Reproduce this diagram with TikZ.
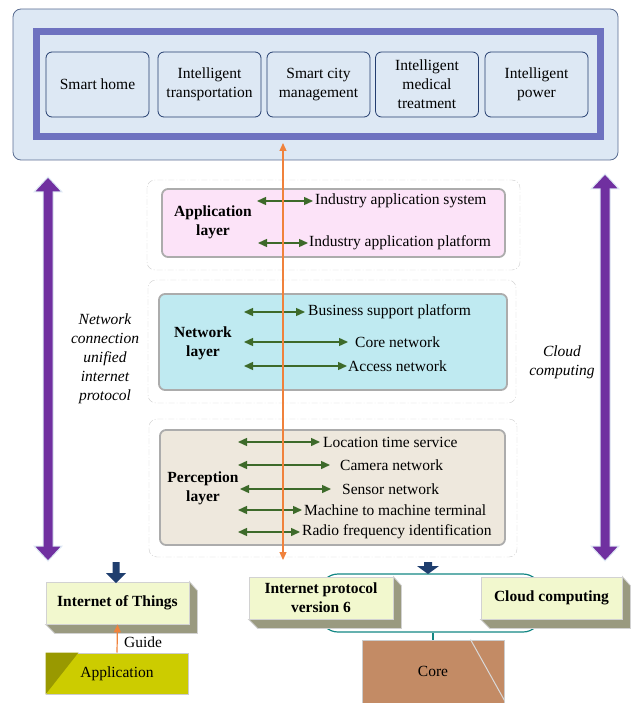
\documentclass[tikz,border=0pt]{standalone}
\usepackage{fontspec}
\setmainfont{Liberation Serif}
\usetikzlibrary{arrows.meta}

\definecolor{paleblue}{HTML}{DDE8F4}
\definecolor{framepurple}{HTML}{6E72C0}
\definecolor{navy}{HTML}{233C6E}
\definecolor{apppink}{HTML}{FCE3F8}
\definecolor{netcyan}{HTML}{BFEAF1}
\definecolor{percbeige}{HTML}{EEE8DD}
\definecolor{arrowgreen}{HTML}{3D6A2A}
\definecolor{ipurple}{HTML}{7030A0}
\definecolor{iporange}{HTML}{F0823C}
\definecolor{boxcream}{HTML}{F2F8CE}
\definecolor{boxside}{HTML}{9A9A80}
\definecolor{olive}{HTML}{CCCC00}
\definecolor{darkolive}{HTML}{999900}
\definecolor{corebrown}{HTML}{C38B65}
\definecolor{linkteal}{HTML}{138784}
\definecolor{downblue}{HTML}{1F3E6E}

\tikzset{
  txt/.style={font=\fontsize{15.5}{19}\selectfont, align=center},
  areabox/.style={txt, draw=navy, fill=paleblue, rounded corners=6pt, minimum width=103pt, minimum height=65pt, line width=0.8pt},
  groupbox/.style={draw=gray!40, dash pattern=on 6pt off 2pt on 1pt off 2pt, rounded corners=8pt},
  layerbox/.style={draw=gray!65, line width=1.8pt, rounded corners=6pt},
  layername/.style={txt, font=\fontsize{15.5}{19}\selectfont\bfseries},
  item/.style={txt, inner sep=0pt, anchor=west},
  garrow/.style={arrowgreen, line width=1.4pt, {Triangle[length=9pt,width=8pt]}-{Triangle[length=9pt,width=8pt]}},
  oarrow/.style={iporange, line width=1.2pt},
  solidbox/.style={txt, font=\fontsize{15.5}{19}\selectfont\bfseries, fill=boxcream, draw=gray!35, line width=0.8pt, minimum height=42pt},
}

\begin{document}
\begin{tikzpicture}[x=1pt,y=-1pt]
    \useasboundingbox (0,0) rectangle (630,703);

    % 1. top area with the application fields
    \draw[fill=paleblue, draw=navy!75, line width=0.8pt, rounded corners=8pt] (13,9) rectangle (618,160);
    \draw[draw=framepurple, fill=paleblue, line width=7pt] (36.5,31.5) rectangle (600.5,136.5);
    \foreach \n/\x/\t in {home/97.5/{Smart home}, trans/209.5/{Intelligent\\transportation}, city/318.5/{Smart city\\management}, medical/427/{Intelligent\\medical\\treatment}, power/536.5/{Intelligent\\power}} {
        \node[areabox] (\n) at (\x,84.5) {\t};
    }

    % 2. dashed groups and layer boxes
    \draw[groupbox] (147,180) rectangle (520,270);
    \draw[groupbox] (148,280) rectangle (516,403);
    \draw[groupbox] (149,419) rectangle (517,557);
    \draw[layerbox, fill=apppink] (162,189) rectangle (505,257);
    \draw[layerbox, fill=netcyan] (159,294) rectangle (507,390);
    \draw[layerbox, fill=percbeige] (160,430) rectangle (505,545);

    \node[layername] (applayer) at (213,222) {Application\\layer};
    \node[layername] (netlayer) at (203,343) {Network\\layer};
    \node[layername] (perclayer) at (203,488) {Perception\\layer};

    % 3. items of each layer with the green arrows
    \foreach \y/\xa/\g/\xt/\t in {201/257/2/315/Industry application system,
                                  243/258/1/309/Industry application platform,
                                  312/244/3/308/Business support platform,
                                  342/244/7/355/Core network,
                                  366/244/1/348/Access network,
                                  442/238/3/323/Location time service,
                                  465/238/10/340/Camera network,
                                  489/240/11/342/Sensor network,
                                  510/238/2/304/Machine to machine terminal,
                                  532/238/2/302/Radio frequency identification} {
        \node[item] (t\y) at (\xt,\y) {\t};
        \coordinate (a\y) at (\xa,\y);
        \draw[garrow, shorten >=\g pt] (a\y) -- (t\y.west);
    }

    % 4. purple arrows on both sides
    \foreach \ax/\at in {48/177, 605/174} {
        \fill[ipurple, draw=paleblue, line width=1pt] (\ax,\at) -- ({\ax+14},{\at+15}) -- ({\ax+5},{\at+15}) -- ({\ax+5},546) -- ({\ax+14},546) -- (\ax,561) -- ({\ax-14},546) -- ({\ax-5},546) -- ({\ax-5},{\at+15}) -- ({\ax-14},{\at+15}) -- cycle;
    }
    \node[txt, font=\fontsize{15.5}{19}\selectfont\itshape] (netproto) at (105,359) {Network\\connection\\unified\\internet\\protocol};
    \node[txt, font=\fontsize{15.5}{19}\selectfont\itshape] (cloudtxt) at (562,362) {Cloud\\computing};

    % 5. orange line through the layers
    \coordinate (otop) at (283,143);
    \coordinate (obot) at (283,560);
    \draw[oarrow, {Triangle[length=8pt,width=7pt]}-{Triangle[length=8pt,width=7pt]}] (obot) -- (otop);

    % 6. bottom part
    \node[txt, minimum width=221pt, minimum height=58pt, draw=linkteal, line width=1.2pt, rounded corners=18pt] (link) at (430.5,603) {};
    \node[solidbox, minimum width=143pt] (iot) at (117.5,603) {Internet of Things};
    \node[solidbox, minimum width=144pt] (ipv6) at (321,598) {Internet protocol\\version 6};
    \node[solidbox, minimum width=141pt] (cloud) at (551.5,598) {Cloud computing};
    \foreach \n in {iot,ipv6,cloud} {
        \fill[boxside, draw=gray!35, line width=0.8pt] (\n.south west) -- ++(9,9) -- ([shift={(8,9)}]\n.south east) -- ([shift={(8,9)}]\n.north east) -- (\n.north east) -- (\n.south east) -- cycle;
    }

    % dark blue down arrows
    \fill[downblue] (112.5,562) -- (119.5,562) -- (119.5,573) -- (126,573) -- (116,583) -- (106,573) -- (112.5,573) -- cycle;
    \fill[downblue] (424,562) -- (432,562) -- (432,566) -- (439,566) -- (428,574) -- (417,566) -- (424,566) -- cycle;

    \node[txt, fill=olive, draw=gray!40, line width=1pt, minimum width=142pt, minimum height=41pt] (appl) at (117,673.5) {};
    \fill[darkolive] (appl.north west) -- ++(33,0) -- (appl.south west) -- cycle;
    \node[txt] (appltxt) at (117,673.5) {Application};
    \draw[oarrow, -{Triangle[length=8pt,width=7pt]}] (appl.north) -- (iot.south);
    \node[txt] (guide) at (143,642) {Guide};

    \node[txt, fill=corebrown, draw=gray!40, line width=1pt, minimum width=142pt, minimum height=63pt] (core) at (433,671.5) {Core};
    \draw[gray!30, line width=1pt] ([xshift=-34pt]core.north east) -- ([yshift=3pt]core.south east);
    \draw[linkteal, line width=1.2pt] (core.north) -- (core.north |- link.south);

\end{tikzpicture}
\end{document}
